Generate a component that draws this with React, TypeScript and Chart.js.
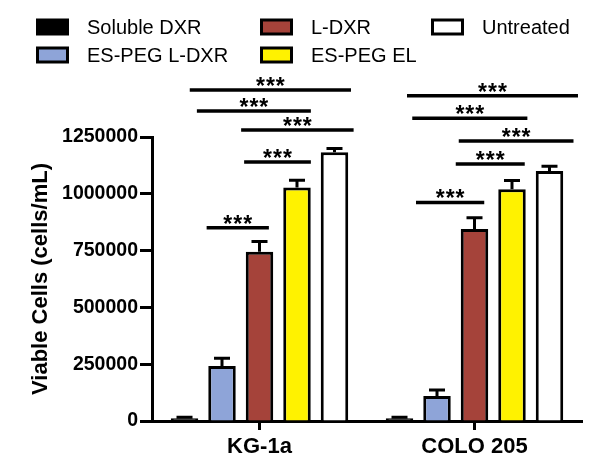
import React, { useEffect, useRef } from "react";
import { Chart, registerables } from "chart.js";

Chart.register(...registerables);

// ---------- data ----------
const categories = ["KG-1a", "COLO 205"];
const seriesNames = ["Soluble DXR", "ES-PEG L-DXR", "L-DXR", "ES-PEG EL", "Untreated"];

const solubleDXR = [12000, 12000];
const esPegLDXR = [242000, 110000];
const lDXR = [745000, 845000];
const esPegEL = [1028000, 1020000];
const untreated = [1183000, 1100000];

const solubleDXRErr = [4000, 4000];
const esPegLDXRErr = [34000, 26000];
const lDXRErr = [45000, 50000];
const esPegELErr = [32000, 38000];
const untreatedErr = [16000, 21000];

const seriesColors = ["#000000", "#8EA4D8", "#A5433A", "#FFF200", "#FFFFFF"];

const yMin = 0;
const yMax = 1250000;
const yStep = 250000;

// significance brackets: category, start/end position (in bar slots), height (data units)
const bracketCategory = [0, 0, 0, 0, 0, 1, 1, 1, 1, 1];
const bracketFrom = [0.59, 1.59, 1.51, 0.33, 0.14, 0.44, 1.5, 1.58, 0.34, 0.2];
const bracketTo = [2.25, 3.37, 4.51, 3.37, 4.44, 2.26, 3.34, 4.64, 3.41, 4.76];
const bracketLevel = [851000, 1140000, 1281000, 1364000, 1457000, 962000, 1131000, 1232000, 1332000, 1432000];
const bracketLabel = "***";

const seriesValues = [solubleDXR, esPegLDXR, lDXR, esPegEL, untreated];
const seriesErrors = [solubleDXRErr, esPegLDXRErr, lDXRErr, esPegELErr, untreatedErr];

const FONT = "'Liberation Sans', Arial, Helvetica, sans-serif";

// ---------- plugins ----------
const errorBarPlugin = {
  id: "errorBars",
  afterDatasetsDraw(chart: any) {
    const ctx = chart.ctx;
    const y = chart.scales.y;
    ctx.save();
    ctx.strokeStyle = "#000";
    ctx.lineWidth = 3;
    ctx.lineCap = "butt";
    chart.data.datasets.forEach((ds: any, i: number) => {
      const meta = chart.getDatasetMeta(i);
      meta.data.forEach((bar: any, j: number) => {
        const v = ds.data[j];
        const e = seriesErrors[i][j];
        const yTop = y.getPixelForValue(v + e);
        const cap = 8;
        ctx.beginPath();
        ctx.moveTo(bar.x, bar.y);
        ctx.lineTo(bar.x, yTop);
        ctx.moveTo(bar.x - cap, yTop);
        ctx.lineTo(bar.x + cap, yTop);
        ctx.stroke();
      });
    });
    ctx.restore();
  },
};

const bracketPlugin = {
  id: "brackets",
  afterDraw(chart: any) {
    const ctx = chart.ctx;
    const y = chart.scales.y;
    const m0 = chart.getDatasetMeta(0);
    const m1 = chart.getDatasetMeta(1);
    ctx.save();
    ctx.strokeStyle = "#000";
    ctx.fillStyle = "#000";
    ctx.lineWidth = 3.5;
    ctx.font = `bold 23px ${FONT}`;
    ctx.textAlign = "center";
    ctx.textBaseline = "alphabetic";
    try {
      (ctx as any).letterSpacing = "1px";
    } catch (e) {}
    bracketCategory.forEach((c, k) => {
      const x0 = m0.data[c].x;
      const pitch = m1.data[c].x - m0.data[c].x;
      const xa = x0 + bracketFrom[k] * pitch;
      const xb = x0 + bracketTo[k] * pitch;
      const yy = y.getPixelForValue(bracketLevel[k]);
      ctx.beginPath();
      ctx.moveTo(xa, yy);
      ctx.lineTo(xb, yy);
      ctx.stroke();
      ctx.fillText(bracketLabel, (xa + xb) / 2 + 0.5, yy + 4);
    });
    ctx.restore();
  },
};

const legendColumnX = [36, 260, 431];
const legendRowY = [27, 55];

const legendPlugin = {
  id: "gridLegend",
  afterDraw(chart: any) {
    const ctx = chart.ctx;
    ctx.save();
    ctx.font = `20px ${FONT}`;
    ctx.textAlign = "left";
    ctx.textBaseline = "middle";
    chart.data.datasets.forEach((ds: any, i: number) => {
      const col = Math.floor(i / 2);
      const row = i % 2;
      const bx = legendColumnX[col];
      const cy = legendRowY[row];
      const bw = 33;
      const bh = 17;
      ctx.fillStyle = "#000";
      ctx.fillRect(bx, cy - bh / 2, bw, bh);
      ctx.fillStyle = ds.backgroundColor;
      ctx.fillRect(bx + 3, cy - bh / 2 + 3, bw - 6, bh - 6);
      ctx.fillStyle = "#000";
      ctx.fillText(ds.label, bx + 51, cy + 1);
    });
    ctx.restore();
  },
};

export default function App() {
  const canvasRef = useRef<HTMLCanvasElement | null>(null);

  useEffect(() => {
    if (!canvasRef.current) return;
    const chart = new Chart(canvasRef.current, {
      type: "bar",
      data: {
        labels: categories,
        datasets: seriesNames.map((name, i) => ({
          label: name,
          data: seriesValues[i],
          backgroundColor: seriesColors[i],
          borderColor: "#000",
          borderWidth: 3,
          categoryPercentage: 0.872,
          barPercentage: 0.733,
        })),
      },
      options: {
        animation: false,
        responsive: true,
        maintainAspectRatio: false,
        devicePixelRatio: 1,
        layout: { padding: { top: 137, left: 24, right: 20, bottom: 0 } },
        plugins: {
          legend: { display: false },
          tooltip: { enabled: false },
        },
        scales: {
          x: {
            afterFit: (s: any) => {
              s.height = 48;
            },
            grid: {
              offset: false,
              drawOnChartArea: false,
              drawTicks: true,
              tickLength: 9,
              tickWidth: 3,
              tickColor: "#000",
            },
            border: { display: true, color: "#000", width: 3 },
            ticks: {
              color: "#000",
              padding: 4,
              font: { family: FONT, size: 22, weight: "bold" },
            },
          },
          y: {
            min: yMin,
            max: yMax,
            afterFit: (s: any) => {
              s.width = 128;
            },
            grid: {
              drawOnChartArea: false,
              drawTicks: true,
              tickLength: 12,
              tickWidth: 3,
              tickColor: "#000",
            },
            border: { display: true, color: "#000", width: 3 },
            ticks: {
              stepSize: yStep,
              color: "#000",
              padding: 2,
              font: { family: FONT, size: 19.5, weight: "bold" },
              callback: (v: any) => String(v),
            },
            title: {
              display: true,
              text: "Viable Cells (cells/mL)",
              color: "#000",
              font: { family: FONT, size: 22, weight: "bold" },
            },
          },
        },
      } as any,
      plugins: [errorBarPlugin, bracketPlugin, legendPlugin],
    });
    return () => chart.destroy();
  }, []);

  return (
    <div style={{ position: "fixed", left: 0, top: 0, width: 602, height: 469, background: "#fff" }}>
      <canvas ref={canvasRef} />
    </div>
  );
}
